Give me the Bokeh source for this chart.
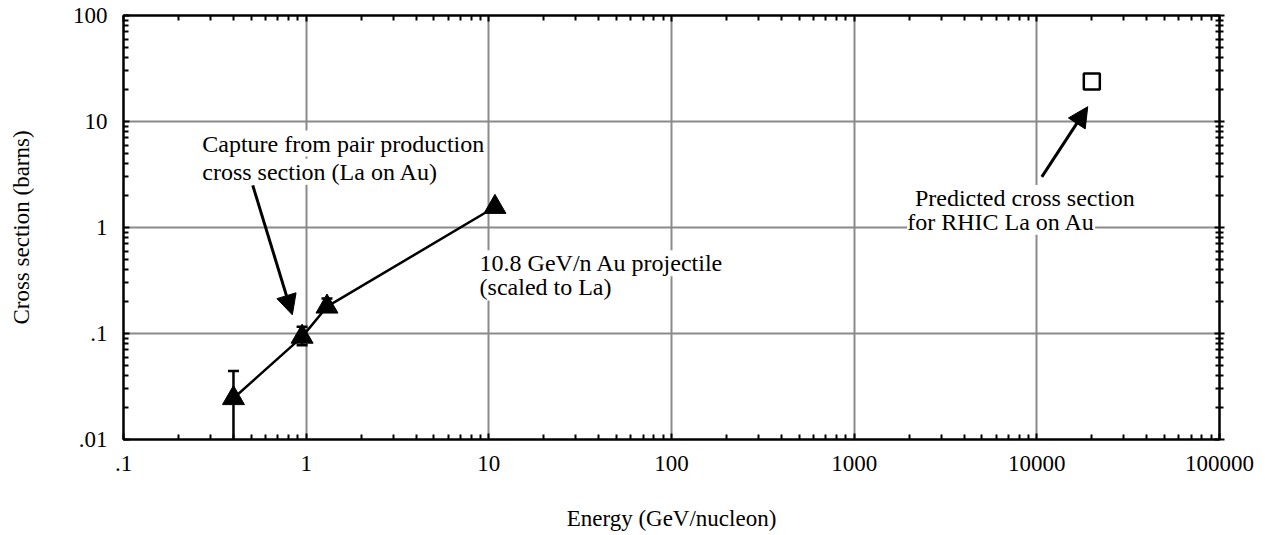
import math
from bokeh.plotting import figure
from bokeh.models import (FixedTicker, LogAxis, Arrow, NormalHead, Label,
                          ColumnDataSource, Range1d)
from bokeh.embed import file_html
from bokeh.resources import INLINE

FONT = "Liberation Serif"

# ---- data ----
energy = [0.4, 0.95, 1.3, 10.8]          # GeV/nucleon
xsec = [0.0245, 0.093, 0.179, 1.56]       # barns
err_hi = [0.0443, 0.1155, 0.214, 1.56]
err_lo = [0.004, 0.0775, 0.179, 1.56]
pred_energy = [20000]
pred_xsec = [23.8]

x_ticks = [0.1, 1, 10, 100, 1000, 10000, 100000]
x_tick_labels = [".1", "1", "10", "100", "1000", "10000", "100000"]
y_ticks = [0.01, 0.1, 1, 10, 100]
y_tick_labels = [".01", ".1", "1", "10", "100"]

# annotation texts (left x, middle y in data units)
note_text = ["Capture from pair production", "cross section (La on Au)",
             "10.8 GeV/n Au projectile", "(scaled to La)",
             "Predicted  cross section", "for RHIC La on Au"]
note_x = [0.27, 0.27, 8.9, 8.9, 2150, 1950]
note_y = [6.2, 3.35, 0.46, 0.272, 1.9, 1.13]

# arrows (start -> end, data units)
arrow_x0 = [0.51, 10650]
arrow_y0 = [2.5, 3.0]
arrow_x1 = [0.84, 19000]
arrow_y1 = [0.15, 13.8]

x_title = "Energy (GeV/nucleon)"
y_title = "Cross section (barns)"

def minors(lo_exp, hi_exp):
    return [m * 10.0 ** k for k in range(lo_exp, hi_exp) for m in range(2, 10)]

x_minor = minors(-1, 5)
y_minor = minors(-2, 2)

p = figure(width=1262, height=534, x_axis_type="log", y_axis_type="log",
           x_range=Range1d(0.1, 100000), y_range=Range1d(0.01, 100),
           output_backend="svg", toolbar_location=None,
           min_border_left=123, min_border_right=43,
           min_border_top=15, min_border_bottom=95)

p.outline_line_color = "black"
p.outline_line_width = 2
p.background_fill_color = "white"
p.border_fill_color = "white"

xt = FixedTicker(ticks=x_ticks, minor_ticks=x_minor)
yt = FixedTicker(ticks=y_ticks, minor_ticks=y_minor)

def style_axis(ax, ticker, labels, show_labels, tin, tout, minin, minout):
    ax.ticker = ticker
    ax.axis_line_color = "black"
    ax.axis_line_width = 2
    ax.major_tick_line_color = "black"
    ax.major_tick_line_width = 2
    ax.minor_tick_line_color = "black"
    ax.minor_tick_line_width = 2
    ax.major_tick_in = tin
    ax.major_tick_out = tout
    ax.minor_tick_in = minin
    ax.minor_tick_out = minout
    ax.major_label_text_font = FONT
    ax.major_label_text_color = "black"
    ax.axis_label_text_font = FONT
    ax.axis_label_text_font_style = "normal"
    ax.axis_label_text_font_size = "23px"
    ax.axis_label_text_color = "black"
    if show_labels:
        ax.major_label_overrides = {t: l for t, l in zip(ticker.ticks, labels)}
        ax.major_label_text_font_size = "23px"
    else:
        ax.major_label_text_font_size = "2px"
        ax.major_label_text_alpha = 0
        ax.major_label_standoff = 0

style_axis(p.xaxis[0], xt, x_tick_labels, True, 6, 0, 5, 0)
p.xaxis[0].major_label_standoff = 16
p.xaxis[0].axis_label = x_title
p.xaxis[0].axis_label_standoff = 32
style_axis(p.yaxis[0], yt, y_tick_labels, True, 6, 0, 5, 0)
p.yaxis[0].major_label_standoff = 16
p.yaxis[0].axis_label = y_title
p.yaxis[0].axis_label_standoff = 36

top = LogAxis()
style_axis(top, FixedTicker(ticks=x_ticks, minor_ticks=x_minor), None, False, 6, 0, 5, 0)
p.add_layout(top, "above")
right = LogAxis()
style_axis(right, FixedTicker(ticks=y_ticks, minor_ticks=y_minor), None, False, 5, 5, 4, 4)
p.add_layout(right, "right")

p.xgrid.ticker = xt
p.ygrid.ticker = yt
for g in (p.xgrid[0], p.ygrid[0]):
    g.grid_line_color = "#8a8a8a"
    g.grid_line_width = 2
    g.minor_grid_line_color = None

# annotation texts with white background (hide grid lines)
for t, x, y in zip(note_text, note_x, note_y):
    p.add_layout(Label(x=x, y=y, text=t, text_font=FONT, text_font_size="24px",
                       text_color="black", text_align="left", text_baseline="middle",
                       background_fill_color="white"))

# connecting line and data
src = ColumnDataSource(dict(x=energy, y=xsec, hi=err_hi, lo=err_lo))
p.line("x", "y", source=src, line_color="black", line_width=2.5)
p.segment(x0="x", y0="lo", x1="x", y1="hi", source=src, line_color="black", line_width=2.5)
p.scatter(x="x", y="hi", source=src, marker="dash", size=11, line_color="black", line_width=2.5)
p.scatter(x="x", y="lo", source=src, marker="dash", size=11, line_color="black", line_width=2.5)
p.scatter(x="x", y="y", source=src, marker="triangle", size=22,
          fill_color="black", line_color="black")

p.scatter(x=pred_energy, y=pred_xsec, marker="square", size=16,
          fill_color="white", line_color="black", line_width=2.5)

for x0, y0, x1, y1 in zip(arrow_x0, arrow_y0, arrow_x1, arrow_y1):
    p.add_layout(Arrow(end=NormalHead(size=20, fill_color="black", line_color="black"),
                       x_start=x0, y_start=y0, x_end=x1, y_end=y1,
                       line_color="black", line_width=3))

open("out.html", "w").write(file_html(p, INLINE))
